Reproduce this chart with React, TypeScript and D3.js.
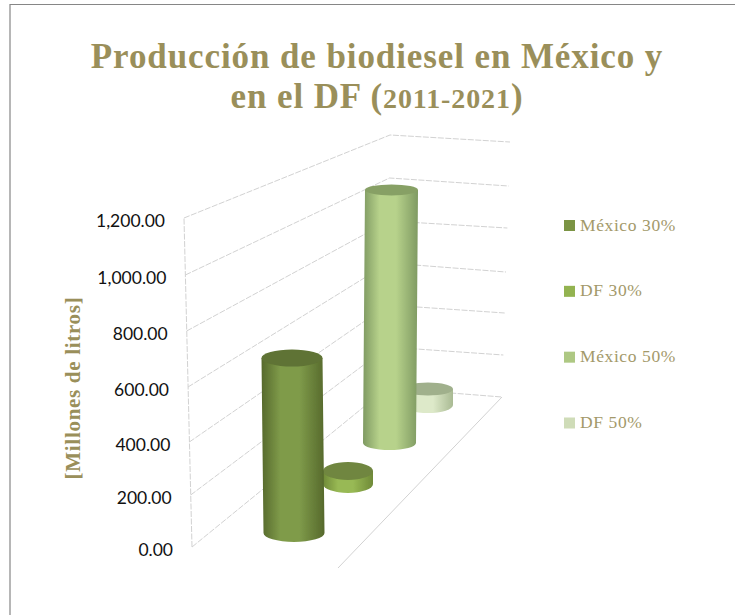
import React from "react";
import * as d3 from "d3";

const titleLine1 = "Producción de biodiesel en México y";
const titleLine2 = "en el DF (";
const titleYears = "2011-2021";
const titleClose = ")";
const axisTitle = "[Millones de litros]";
const tickValues = [0, 200, 400, 600, 800, 1000, 1200];
const seriesNames = ["México 30%", "DF 30%", "México 50%", "DF 50%"];
const seriesValues = [640, 52, 1047, 72];
const swatchColors = ["#7b9444", "#93b350", "#aec883", "#cfdcb8"];

// Projection of the 3D box, one pixel row per gridline
const leftWallY = [547, 495, 442, 387, 331, 275, 218];
const cornerY = [388, 347, 305, 263, 221, 178, 135];
const rightWallY = [397, 355, 313, 272, 228, 186, 142];

// Placement of each cylinder in the projected box
const barCx = [294, 348, 389.5, 428];
const barHalfW = [30.5, 25, 26.5, 25];
const barBaseY = [533, 484, 443, 405];
const barFullPx = [328, 300, 290, 265];
const barRyTop = [8.5, 9, 5.5, 6.5];
const barRyBase = [9, 9, 7, 8];
const barLean = [-2, 0, 2, 0];
const barEdge = ["#56692c", "#6f8a38", "#7f9a62", "#a9ba93"];
const barMid = ["#7f9b4a", "#98b954", "#b7d28b", "#dde9c9"];
const barTop = ["#5f7334", "#6f863f", "#87a065", "#a0b08c"];
const drawOrder = [3, 2, 1, 0];

const GOLD = "#9a8f5a";
const SERIF = "'Liberation Serif', serif";

export default function App() {
  const yLeft = d3.scaleLinear().domain(tickValues).range(leftWallY);
  const yCorner = d3.scaleLinear().domain(tickValues).range(cornerY);
  const yRight = d3.scaleLinear().domain(tickValues).range(rightWallY);
  const xLeft = d3.scaleLinear().domain([0, 1200]).range([192, 184]);
  const xCorner = d3.scaleLinear().domain([0, 1200]).range([387, 390]);
  const xRight = d3.scaleLinear().domain([0, 1200]).range([502, 510]);
  const line = d3.line();
  const legendY = d3.scalePoint().domain(seriesNames).range([225.5, 423]);

  return (
    <svg
      width={735}
      height={615}
      style={{ position: "absolute", left: 0, top: 0, background: "#fff" }}
    >
      <defs>
        {seriesNames.map((n, i) => (
          <linearGradient key={n} id={`g${i}`} x1="0" x2="1" y1="0" y2="0">
            <stop offset="0" stopColor={barEdge[i]} />
            <stop offset="0.3" stopColor={barMid[i]} />
            <stop offset="0.6" stopColor={barMid[i]} />
            <stop offset="1" stopColor={barEdge[i]} />
          </linearGradient>
        ))}
        <filter id="soft" x="-5%" y="-5%" width="110%" height="110%">
          <feGaussianBlur stdDeviation="0.5" />
        </filter>
      </defs>

      <path d="M10 615V4.5H735" fill="none" stroke="#868686" strokeWidth={1.2} />

      <g
        textAnchor="middle"
        fontFamily={SERIF}
        fontWeight="bold"
        fontSize={35}
        letterSpacing={0.9}
        fill={GOLD}
      >
        <text x={377} y={68}>{titleLine1}</text>
        <text x={377} y={108}>
          {titleLine2}
          <tspan fontSize={28}>{titleYears}</tspan>
          {titleClose}
        </text>
      </g>

      <g fill="none" stroke="#d2d2d2" strokeWidth={1} strokeDasharray="6 1.5">
        <path d={line([[xLeft(0), yLeft(0)], [xLeft(1200), yLeft(1200)]]) ?? ""} />
        {tickValues.map((v) => (
          <path
            key={v}
            d={
              line([
                [xLeft(v), yLeft(v)],
                [xCorner(v), yCorner(v)],
                [xRight(v), yRight(v)],
              ]) ?? ""
            }
          />
        ))}
        <path d={line([[xRight(0), yRight(0)], [338, 568]]) ?? ""} strokeDasharray="none" />
      </g>

      {tickValues.map((v) => (
        <text
          key={v}
          x={xLeft(v) - 19}
          y={yLeft(v) + 3}
          dy="0.35em"
          textAnchor="end"
          fontFamily="Lato, 'Open Sans', sans-serif"
          fontSize={17.5}
          fill="#111"
        >
          {d3.format(",.2f")(v)}
        </text>
      ))}

      <text
        transform="translate(80,388) rotate(-90)"
        textAnchor="middle"
        fontFamily={SERIF}
        fontWeight="bold"
        fontSize={21}
        letterSpacing={0.7}
        fill={GOLD}
      >
        {axisTitle}
      </text>

      <g filter="url(#soft)">
        {drawOrder.map((i) => {
          const y = d3
            .scaleLinear()
            .domain([0, 1200])
            .range([barBaseY[i], barBaseY[i] - barFullPx[i]]);
          const yTop = y(seriesValues[i]);
          const yBase = y(0);
          const w = barHalfW[i];
          const cxT = barCx[i] + barLean[i];
          const cxB = barCx[i];
          const side = `M${cxT - w} ${yTop}L${cxB - w} ${yBase}A${w} ${barRyBase[i]} 0 0 0 ${cxB + w} ${yBase}L${cxT + w} ${yTop}Z`;
          return (
            <g key={i}>
              <path d={side} fill={`url(#g${i})`} />
              <ellipse cx={cxT} cy={yTop} rx={w} ry={barRyTop[i]} fill={barTop[i]} />
            </g>
          );
        })}
      </g>

      {seriesNames.map((n, i) => (
        <g key={n}>
          <rect x={564} y={legendY(n)! - 5.5} width={11} height={11} fill={swatchColors[i]} />
          <text
            x={580}
            y={legendY(n)! + 5}
            fontFamily={SERIF}
            fontSize={17.5}
            letterSpacing={0.6}
            fill="#a3996a"
          >
            {n}
          </text>
        </g>
      ))}
    </svg>
  );
}
